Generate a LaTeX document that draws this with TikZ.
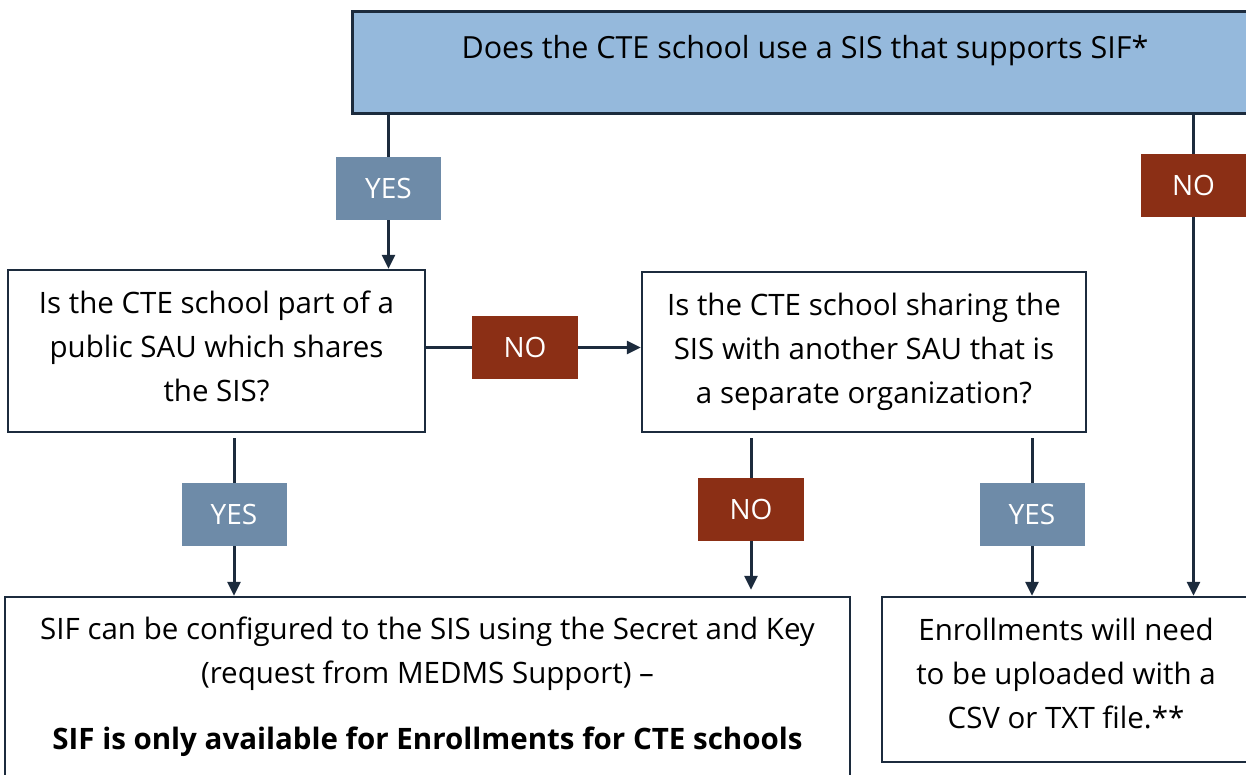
\documentclass[tikz,border=0pt]{standalone}
\usepackage{fontspec}
\setmainfont{Open Sans}
\usetikzlibrary{arrows.meta, positioning}
\usepackage{xcolor}
\definecolor{topblue}{RGB}{149,185,220}
\definecolor{yesblue}{RGB}{110,139,168}
\definecolor{nored}{RGB}{139,47,21}
\definecolor{linenavy}{RGB}{28,43,61}
\begin{document}
\begin{tikzpicture}[
        x=1pt, y=-1pt,
        questionbox/.style={draw=linenavy, line width=2.5pt, fill=white, align=center, inner sep=0pt, font=\fontsize{29.5}{44}\selectfont},
        yeslabel/.style={fill=yesblue, text=white, minimum width=105pt, minimum height=63pt, inner sep=0pt, font=\fontsize{28}{30}\selectfont},
        nolabel/.style={fill=nored, text=white, minimum width=106pt, minimum height=63pt, inner sep=0pt, font=\fontsize{28}{30}\selectfont},
        link/.style={draw=linenavy, line width=3pt},
        linkarrow/.style={link, -{Triangle[length=14pt, width=13pt]}}
    ]
        \useasboundingbox (0,0) rectangle (1246,774);
        \clip (0,0) rectangle (1246,774);
        % Boxes
        \node[questionbox, fill=topblue, minimum width=920pt, minimum height=102pt, anchor=north west] (top) at (351,10) {};
        \node[font=\fontsize{30.5}{34}\selectfont] (topq) at (805,51) {Does the CTE school use a SIS that supports SIF*};
        \node[questionbox, minimum width=417pt, minimum height=162pt, text depth=10pt] (partsau) at (216.5,351) {Is the CTE school part of a\\public SAU which shares\\the SIS?};
        \node[questionbox, minimum width=444pt, minimum height=160pt] (sharesau) at (864,352) {Is the CTE school sharing the\\SIS with another SAU that is\\a separate organization?};
        \node[questionbox, minimum width=845pt, minimum height=179pt] (sifbox) at (427.5,686.5) {SIF can be configured to the SIS using the Secret and Key\\(request from MEDMS Support) --\\[22pt]\textbf{SIF is only available for Enrollments for CTE schools}};
        \node[questionbox, minimum width=368pt, minimum height=165pt, text depth=12pt] (csvbox) at (1066,679.5) {Enrollments will need\\to be uploaded with a\\CSV or TXT file.**};
        % Labels
        \node[yeslabel] (yesa) at (388.5,188.5) {YES};
        \node[nolabel] (nob) at (1193.5,185.5) {NO};
        \node[nolabel] (noc) at (525,347.5) {NO};
        \node[yeslabel] (yesd) at (234,514.5) {YES};
        \node[nolabel] (noe) at (751,509.5) {NO};
        \node[yeslabel] (yesf) at (1032,514.5) {YES};
        % Lines
        \draw[link] (yesa |- top.south) -- (yesa);
        \draw[linkarrow] (yesa) -- (yesa |- partsau.north);
        \draw[link] (nob |- top.south) -- (nob);
        \draw[linkarrow] (nob) -- (nob |- csvbox.north);
        \draw[link] (noc -| partsau.east) -- (noc);
        \draw[linkarrow] (noc) -- (noc -| sharesau.west);
        \draw[link, shorten <=5pt] (yesd |- partsau.south) -- (yesd);
        \draw[linkarrow] (yesd) -- (yesd |- sifbox.north);
        \draw[link, shorten <=5pt] (noe |- sharesau.south) -- (noe);
        \draw[linkarrow, shorten >=6pt] (noe) -- (noe |- sifbox.north);
        \draw[link, shorten <=5pt] (yesf |- sharesau.south) -- (yesf);
        \draw[linkarrow] (yesf) -- (yesf |- csvbox.north);
\end{tikzpicture}
\end{document}
